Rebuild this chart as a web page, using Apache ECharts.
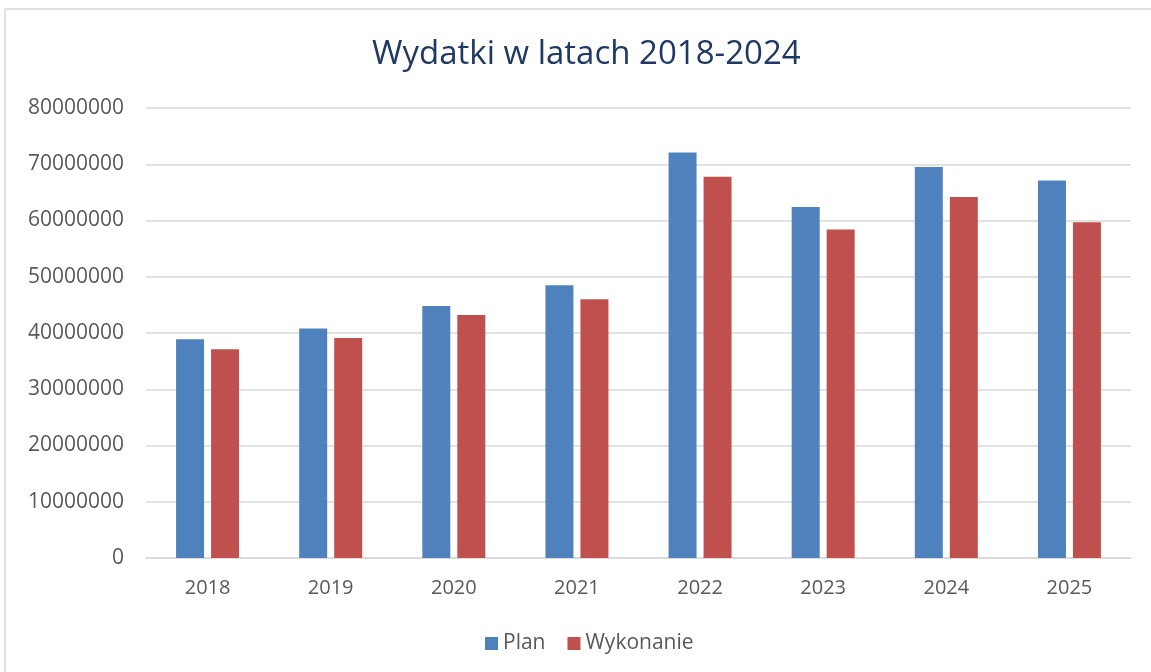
<!DOCTYPE html>
<html>
<head>
<meta charset="utf-8">
<script src="https://cdn.jsdelivr.net/npm/echarts@6/dist/echarts.min.js"></script>
<style>
html,body{margin:0;padding:0;background:#fff;}
#chart{width:1151px;height:672px;}
</style>
</head>
<body>
<div id="chart"></div>
<script>
const categories = ['2018','2019','2020','2021','2022','2023','2024','2025'];
const planValues = [38900000, 40800000, 44800000, 48500000, 72100000, 62400000, 69500000, 67100000];
const wykonanieValues = [37100000, 39100000, 43200000, 46000000, 67800000, 58400000, 64200000, 59700000];
const seriesNames = ['Plan', 'Wykonanie'];
const titleText = 'Wydatki w latach 2018-2024';

const font = "'Open Sans', sans-serif";
const chart = echarts.init(document.getElementById('chart'));
chart.setOption({
  animation: false,
  backgroundColor: '#ffffff',
  graphic: [{
    type: 'rect',
    shape: {x: 5, y: 9, width: 1170, height: 700},
    style: {fill: 'none', stroke: '#D9D9D9', lineWidth: 1.5}
  }],
  title: {
    text: titleText,
    left: 367,
    top: 33,
    textStyle: {fontFamily: font, fontSize: 33, fontWeight: 'normal', color: '#1F3864'}
  },
  legend: {
    data: seriesNames,
    bottom: 13,
    left: 480,
    itemWidth: 13,
    itemHeight: 13,
    itemGap: 22,
    icon: 'rect',
    textStyle: {fontFamily: font, fontSize: 21, color: '#595959'}
  },
  grid: {left: 146, right: 20, top: 108, bottom: 114},
  xAxis: {
    type: 'category',
    data: categories,
    axisTick: {show: false},
    axisLine: {lineStyle: {color: '#D9D9D9', width: 1.5}},
    axisLabel: {fontFamily: font, fontSize: 20, color: '#595959', margin: 20}
  },
  yAxis: {
    type: 'value',
    min: 0,
    max: 80000000,
    interval: 10000000,
    axisLine: {show: false},
    axisTick: {show: false},
    splitLine: {lineStyle: {color: '#D9D9D9', width: 1.5}},
    axisLabel: {fontFamily: font, fontSize: 21, color: '#595959', margin: 22,
      formatter: function (v) { return String(v); }}
  },
  series: [
    {name: seriesNames[0], type: 'bar', data: planValues, barWidth: 28, barGap: '25%',
     itemStyle: {color: '#4F81BD'}},
    {name: seriesNames[1], type: 'bar', data: wykonanieValues, barWidth: 28, barGap: '25%',
     itemStyle: {color: '#C0504D'}}
  ]
});
</script>
</body>
</html>
